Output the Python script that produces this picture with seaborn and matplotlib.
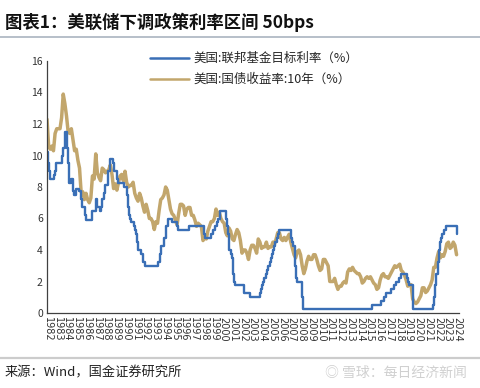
import numpy as np
import pandas as pd
import matplotlib
matplotlib.use("Agg")
import matplotlib.pyplot as plt
import seaborn as sns
from matplotlib.lines import Line2D

# Fed funds target rate (upper bound), change dates and levels
fed_dates = [
    "1982-09-01", "1982-10-15", "1982-11-20", "1982-12-15", "1983-05-25", "1983-06-25", "1983-07-20",
    "1984-03-15", "1984-04-10", "1984-06-25", "1984-07-20", "1984-09-20", "1984-10-05", "1984-11-10",
    "1984-11-25", "1984-12-20", "1985-02-10", "1985-05-20", "1985-06-20", "1985-08-20", "1985-12-20",
    "1986-03-10", "1986-04-20", "1986-07-10", "1986-08-20", "1987-05-01", "1987-09-05", "1987-10-25",
    "1988-01-28", "1988-03-30", "1988-05-10", "1988-06-25", "1988-08-10", "1988-11-20", "1988-12-15",
    "1989-02-10", "1989-06-05", "1989-07-10", "1989-10-18", "1989-11-06", "1989-12-20", "1990-07-13",
    "1990-10-29", "1990-11-13", "1990-12-18", "1991-01-09", "1991-02-01", "1991-03-08", "1991-04-30",
    "1991-08-06", "1991-09-13", "1991-10-31", "1991-11-06", "1991-12-06", "1991-12-20", "1992-04-09",
    "1992-07-02", "1992-09-04", "1994-02-04", "1994-03-22", "1994-04-18", "1994-05-17", "1994-08-16",
    "1994-11-15", "1995-02-01", "1995-07-06", "1995-12-19", "1996-01-31", "1997-03-25", "1998-09-29",
    "1998-10-15", "1998-11-17", "1999-06-30", "1999-08-24", "1999-11-16", "2000-02-02", "2000-03-21",
    "2000-05-16", "2001-01-03", "2001-01-31", "2001-03-20", "2001-04-18", "2001-05-15", "2001-06-27",
    "2001-08-21", "2001-09-17", "2001-10-02", "2001-11-06", "2001-12-11", "2002-11-06", "2003-06-25",
    "2004-06-30", "2004-08-10", "2004-09-21", "2004-11-10", "2004-12-14", "2005-02-02", "2005-03-22",
    "2005-05-03", "2005-06-30", "2005-08-09", "2005-09-20", "2005-11-01", "2005-12-13", "2006-01-31",
    "2006-03-28", "2006-05-10", "2006-06-29", "2007-09-18", "2007-10-31", "2007-12-11", "2008-01-22",
    "2008-01-30", "2008-03-18", "2008-04-30", "2008-10-08", "2008-10-29", "2008-12-16", "2015-12-16",
    "2016-12-14", "2017-03-15", "2017-06-14", "2017-12-13", "2018-03-21", "2018-06-13", "2018-09-26",
    "2018-12-19", "2019-07-31", "2019-09-18", "2019-10-30", "2020-03-03", "2020-03-15", "2022-03-16",
    "2022-05-04", "2022-06-15", "2022-07-27", "2022-09-21", "2022-11-02", "2022-12-14", "2023-02-01",
    "2023-03-22", "2023-05-03", "2023-07-26", "2024-09-18", "2024-09-30",
]
fed_rates = [
    10.25, 9.5, 9.0, 8.5, 8.75, 9.0, 9.5,
    10.0, 10.5, 11.0, 11.5, 11.25, 10.5, 9.5,
    8.75, 8.25, 8.5, 7.75, 7.5, 7.875, 7.75,
    7.25, 6.75, 6.25, 5.875, 6.5, 7.25, 6.75,
    6.5, 6.75, 7.25, 7.625, 8.125, 8.375, 9.0,
    9.75, 9.5, 9.0, 8.75, 8.5, 8.25, 8.0,
    7.75, 7.5, 7.0, 6.75, 6.25, 6.0, 5.75,
    5.5, 5.25, 5.0, 4.75, 4.5, 4.0, 3.75,
    3.25, 3.0, 3.25, 3.5, 3.75, 4.25, 4.75,
    5.5, 6.0, 5.75, 5.5, 5.25, 5.5, 5.25,
    5.0, 4.75, 5.0, 5.25, 5.5, 5.75, 6.0,
    6.5, 6.0, 5.5, 5.0, 4.5, 4.0, 3.75,
    3.5, 3.0, 2.5, 2.0, 1.75, 1.25, 1.0,
    1.25, 1.5, 1.75, 2.0, 2.25, 2.5, 2.75,
    3.0, 3.25, 3.5, 3.75, 4.0, 4.25, 4.5,
    4.75, 5.0, 5.25, 4.75, 4.5, 4.25, 3.5,
    3.0, 2.25, 2.0, 1.5, 1.0, 0.25, 0.5,
    0.75, 1.0, 1.25, 1.5, 1.75, 2.0, 2.25,
    2.5, 2.25, 2.0, 1.75, 1.25, 0.25, 0.5,
    1.0, 1.75, 2.5, 3.25, 4.0, 4.5, 4.75,
    5.0, 5.25, 5.5, 5.0, 5.0,
]

# 10Y Treasury yield, every two months from Sep 1982
ust10_start = "1982-09-01"
ust10 = [
    12.3, 10.6,
    10.4, 10.6, 10.3, 11.4, 11.7, 11.7,   # 1983
    11.7, 12.4, 13.9, 13.3, 12.5, 11.5,   # 1984
    11.4, 11.7, 11.0, 10.3, 10.4, 9.7,    # 1985
    9.2, 7.7, 7.7, 7.2, 7.6, 7.2,         # 1986
    7.0, 7.3, 8.7, 8.5, 10.1, 8.9,        # 1987
    8.6, 8.4, 9.2, 9.1, 8.9, 9.0,         # 1988
    9.1, 9.4, 8.8, 7.9, 8.2, 7.8,         # 1989
    8.3, 8.7, 8.8, 8.4, 9.0, 8.3,         # 1990
    8.0, 8.1, 8.1, 8.3, 7.6, 7.3,         # 1991
    7.1, 7.6, 7.3, 6.8, 6.4, 6.9,         # 1992
    6.5, 6.0, 6.0, 5.8, 5.3, 5.8,         # 1993
    5.7, 6.5, 7.2, 7.3, 7.5, 8.0,         # 1994
    7.8, 7.2, 6.6, 6.3, 6.2, 5.9,         # 1995
    5.6, 6.3, 6.9, 6.9, 6.8, 6.2,         # 1996
    6.6, 6.7, 6.7, 6.2, 6.2, 5.9,         # 1997
    5.5, 5.7, 5.6, 5.5, 4.6, 4.8,         # 1998
    4.7, 5.2, 5.5, 5.8, 5.8, 6.0,         # 1999
    6.6, 6.2, 6.4, 6.0, 5.8, 5.7,         # 2000
    5.1, 4.9, 5.4, 5.2, 4.7, 4.6,         # 2001
    5.0, 5.3, 5.1, 4.6, 3.8, 4.0,         # 2002
    4.0, 3.8, 3.4, 4.0, 4.3, 4.3,         # 2003
    4.1, 3.8, 4.7, 4.5, 4.1, 4.2,         # 2004
    4.2, 4.5, 4.1, 4.2, 4.2, 4.5,         # 2005
    4.4, 4.7, 5.1, 5.1, 4.7, 4.6,         # 2006
    4.8, 4.6, 4.8, 5.0, 4.5, 4.1,         # 2007
    3.7, 3.5, 3.9, 4.0, 3.7, 3.0,         # 2008
    2.5, 2.8, 3.3, 3.6, 3.4, 3.4,         # 2009
    3.7, 3.7, 3.4, 3.0, 2.7, 2.8,         # 2010
    3.4, 3.4, 3.2, 3.0, 2.0, 2.0,         # 2011
    2.0, 2.2, 1.8, 1.5, 1.7, 1.7,         # 2012
    1.9, 2.0, 1.9, 2.6, 2.8, 2.7,         # 2013
    2.9, 2.7, 2.6, 2.5, 2.5, 2.3,         # 2014
    1.9, 2.0, 2.2, 2.3, 2.2, 2.3,         # 2015
    2.1, 1.9, 1.8, 1.5, 1.6, 2.1,         # 2016
    2.4, 2.5, 2.3, 2.3, 2.2, 2.4,         # 2017
    2.6, 2.8, 3.0, 2.9, 3.0, 3.1,         # 2018
    2.7, 2.6, 2.4, 2.1, 1.7, 1.8,         # 2019
    1.8, 0.9, 0.7, 0.6, 0.7, 0.9,         # 2020
    1.1, 1.6, 1.6, 1.3, 1.4, 1.6,         # 2021
    1.8, 2.1, 2.9, 2.9, 3.5, 3.9,         # 2022
    3.5, 3.7, 3.6, 3.9, 4.4, 4.5,         # 2023
    4.1, 4.2, 4.5, 4.3, 3.7,              # 2024
]
year_labels = list(range(1982, 2025))

BLUE = "#3a6fb6"
TAN = "#c2a66c"

sns.set_theme(style="white")
plt.rcParams["font.family"] = ["Noto Sans CJK SC", "DejaVu Sans"]

fed = pd.DataFrame({"date": pd.to_datetime(fed_dates), "rate": fed_rates})
bond = pd.DataFrame({
    "date": pd.date_range(ust10_start, periods=len(ust10), freq="2MS"),
    "rate": ust10,
})

fig = plt.figure(figsize=(4.81, 3.88), dpi=100)
ax = fig.add_axes([47 / 481, 75 / 388, 412 / 481, 252 / 388])

sns.lineplot(data=bond, x="date", y="rate", color=TAN, lw=2.5, ax=ax,
             estimator=None, label="美国:国债收益率:10年（%）", legend=False)
sns.lineplot(data=fed, x="date", y="rate", color=BLUE, lw=1.7, ax=ax,
             estimator=None, drawstyle="steps-post",
             label="美国:联邦基金目标利率（%）", legend=False)

ax.set_ylim(0, 16)
ax.set_yticks(range(0, 17, 2))
ax.set_xlim(pd.Timestamp("1982-09-01"), pd.Timestamp("2024-12-01"))
ticks = [pd.Timestamp(f"{y}-10-01") for y in year_labels]
ax.set_xticks(ticks)
ax.set_xticklabels([str(y) for y in year_labels], rotation=-90,
                   fontsize=7, family="DejaVu Sans", color="#333333")
ax.tick_params(axis="y", labelsize=7.5, colors="#333333")
ax.tick_params(axis="both", direction="in", length=3, width=0.8, color="#404040", pad=3)
ax.set_xlabel("")
ax.set_ylabel("")
for s in ["top", "right"]:
    ax.spines[s].set_visible(False)
for s in ["left", "bottom"]:
    ax.spines[s].set_color("#404040")
    ax.spines[s].set_linewidth(0.9)

h, l = ax.get_legend_handles_labels()
leg = ax.legend(h[::-1], l[::-1], loc="upper left", bbox_to_anchor=(150 / 481, 1 - 52 / 388),
                bbox_transform=fig.transFigure, frameon=False, fontsize=9,
                handlelength=3.1, handletextpad=0.4, labelspacing=0.65, borderpad=0,
                borderaxespad=0)
for line in leg.get_lines():
    line.set_linewidth(1.8)

fig.text(5 / 481, 1 - 22 / 388, "图表1：美联储下调政策利率区间 50bps", fontsize=12.5,
         weight="bold", style="italic", va="center", ha="left", color="#111111")
fig.add_artist(Line2D([0, 1], [1 - 36.5 / 388] * 2, transform=fig.transFigure,
                      color="#aab4c0", lw=1.2))
fig.add_artist(Line2D([0, 1], [1 - 358 / 388] * 2, transform=fig.transFigure,
                      color="#cccccc", lw=1.6))
fig.text(5 / 481, 1 - 373 / 388, "来源：Wind，国金证券研究所", fontsize=9.5,
         va="center", ha="left", color="#222222")
fig.text(467 / 481, 1 - 373 / 388, "◎ 雪球：每日经济新闻", fontsize=10,
         va="center", ha="right", color="#d0d0d0")

fig.savefig("out.png", dpi=100)
